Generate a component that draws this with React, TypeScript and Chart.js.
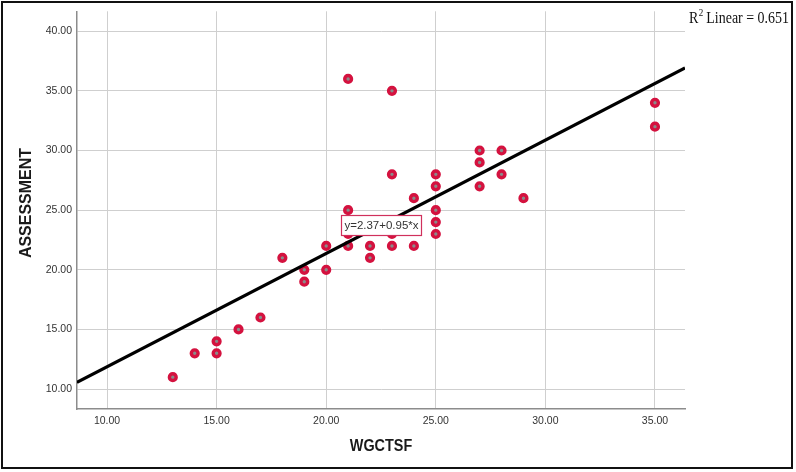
import React, { useEffect, useRef } from "react";
import { Chart, registerables } from "chart.js";

Chart.register(...registerables);

// ---- data ----
const wgctsf = [13, 14, 15, 15, 16, 17, 18, 19, 19, 20, 20, 21, 21, 21, 21, 22, 22, 23, 23, 23, 23, 24, 24, 25, 25, 25, 25, 25, 27, 27, 27, 28, 28, 29, 35, 35];
const assessment = [11, 13, 14, 13, 15, 16, 21, 20, 19, 22, 20, 36, 25, 23, 22, 22, 21, 35, 28, 23, 22, 26, 22, 28, 27, 25, 24, 23, 30, 29, 27, 30, 28, 26, 34, 32];
const xTicks = [10, 15, 20, 25, 30, 35];
const yTicks = [10, 15, 20, 25, 30, 35, 40];
const intercept = 2.37;
const slope = 0.95;
const rSquared = 0.651;
const xTitle = "WGCTSF";
const yTitle = "ASSESSMENT";

// axis ranges
const X_MIN = 8.63;
const X_MAX = 36.37;
const Y_MIN = 8.33;
const Y_MAX = 41.67;
const EQ_LABEL_X = 22.5;

const SANS = "'Liberation Sans', Arial, sans-serif";
const SERIF = "'Liberation Serif', 'Times New Roman', serif";

export default function App() {
  const ref = useRef<HTMLCanvasElement>(null);

  useEffect(() => {
    const overlay = {
      id: "overlay",
      beforeDraw(chart: any) {
        const ctx = chart.ctx;
        ctx.save();
        ctx.fillStyle = "#ffffff";
        ctx.fillRect(0, 0, chart.width, chart.height);
        ctx.restore();
      },
      afterDraw(chart: any) {
        const ctx = chart.ctx as CanvasRenderingContext2D;
        const xs = chart.scales.x;
        const ys = chart.scales.y;

        // axis titles
        ctx.save();
        ctx.fillStyle = "#1a1a1a";
        ctx.font = `bold 16px ${SANS}`;
        ctx.textAlign = "center";
        ctx.textBaseline = "middle";
        ctx.save();
        ctx.translate(381, 447);
        ctx.scale(0.9, 1);
        ctx.fillText(xTitle, 0, 0);
        ctx.restore();
        ctx.save();
        ctx.translate(27, 203);
        ctx.rotate(-Math.PI / 2);
        ctx.fillText(yTitle, 0, 0);
        ctx.restore();
        ctx.restore();

        // equation label
        const eqText = `y=${intercept.toFixed(2)}+${slope.toFixed(2)}*x`;
        const cx = xs.getPixelForValue(EQ_LABEL_X);
        const cy = ys.getPixelForValue(intercept + slope * EQ_LABEL_X);
        ctx.save();
        ctx.font = `11.5px ${SANS}`;
        const w = Math.round(ctx.measureText(eqText).width + 6);
        const h = 20;
        const bx = Math.round(cx - w / 2);
        const by = Math.round(cy - h / 2);
        ctx.fillStyle = "#ffffff";
        ctx.fillRect(bx, by, w, h);
        ctx.strokeStyle = "#d0305c";
        ctx.lineWidth = 1.2;
        ctx.strokeRect(bx + 0.5, by + 0.5, w, h);
        ctx.fillStyle = "#333333";
        ctx.textAlign = "center";
        ctx.textBaseline = "middle";
        ctx.fillText(eqText, bx + w / 2 + 0.5, by + h / 2 + 1);
        ctx.restore();

        // R² label
        ctx.save();
        ctx.fillStyle = "#111111";
        ctx.textBaseline = "alphabetic";
        const bigFont = `17px ${SERIF}`;
        const supFont = `11px ${SERIF}`;
        const partA = "R";
        const partSup = "2";
        const partB = ` Linear = ${rSquared.toFixed(3)}`;
        ctx.font = bigFont;
        const wA = ctx.measureText(partA).width;
        const wB = ctx.measureText(partB).width;
        ctx.font = supFont;
        const wS = ctx.measureText(partSup).width;
        const total = wA + wS + wB;
        const left = 689;
        const right = 789;
        const sx = (right - left) / total;
        ctx.translate(left, 23);
        ctx.scale(sx, 1);
        ctx.font = bigFont;
        ctx.fillText(partA, 0, 0);
        ctx.font = supFont;
        ctx.fillText(partSup, wA + 0.5, -7);
        ctx.font = bigFont;
        ctx.fillText(partB, wA + wS, 0);
        ctx.restore();

        // outer frame
        ctx.save();
        ctx.strokeStyle = "#111111";
        ctx.lineWidth = 2;
        ctx.strokeRect(2, 2, 790, 466);
        ctx.restore();
      },
    };

    const chart = new Chart(ref.current as HTMLCanvasElement, {
      type: "scatter",
      data: {
        datasets: [
          {
            type: "line",
            data: [
              { x: X_MIN, y: intercept + slope * X_MIN },
              { x: X_MAX, y: intercept + slope * X_MAX },
            ],
            borderColor: "#000000",
            borderWidth: 3,
            pointRadius: 0,
            fill: false,
          } as any,
          {
            type: "scatter",
            data: wgctsf.map((x, i) => ({ x, y: assessment[i] })),
            pointRadius: 3.4,
            pointHoverRadius: 3.4,
            borderWidth: 3.4,
            pointBorderWidth: 3.4,
            pointBackgroundColor: "#8a8a8a",
            pointBorderColor: "#d4123f",
            backgroundColor: "#8a8a8a",
            borderColor: "#d4123f",
          } as any,
        ],
      },
      options: {
        responsive: false,
        animation: false,
        events: [],
        layout: { padding: { left: 0, top: 9, right: 111, bottom: 0 } },
        plugins: { legend: { display: false }, tooltip: { enabled: false } },
        font: { family: SANS },
        scales: {
          x: {
            type: "linear",
            min: X_MIN,
            max: X_MAX,
            afterBuildTicks: (s: any) => {
              s.ticks = xTicks.map((v) => ({ value: v }));
            },
            afterFit: (s: any) => {
              s.height = 63;
            },
            grid: { color: "#cfcfcf", lineWidth: 1, drawTicks: false },
            border: { color: "#8c8c8c", width: 1.5 },
            ticks: {
              padding: 6,
              color: "#333333",
              font: { size: 10.5, family: SANS },
              maxRotation: 0,
              autoSkip: false,
              callback: (v: any) => Number(v).toFixed(2),
            },
          },
          y: {
            type: "linear",
            min: Y_MIN,
            max: Y_MAX,
            afterBuildTicks: (s: any) => {
              s.ticks = yTicks.map((v) => ({ value: v }));
            },
            afterFit: (s: any) => {
              s.width = 77;
            },
            grid: { color: "#cfcfcf", lineWidth: 1, drawTicks: false },
            border: { color: "#8c8c8c", width: 1.5 },
            ticks: {
              padding: 5,
              color: "#333333",
              font: { size: 10.5, family: SANS },
              autoSkip: false,
              callback: (v: any) => Number(v).toFixed(2),
            },
          },
        },
      } as any,
      plugins: [overlay],
    });

    return () => chart.destroy();
  }, []);

  return (
    <div style={{ position: "absolute", left: 0, top: 0, width: 796, height: 472, background: "#ffffff" }}>
      <canvas ref={ref} width={796} height={472} style={{ display: "block" }} />
    </div>
  );
}
